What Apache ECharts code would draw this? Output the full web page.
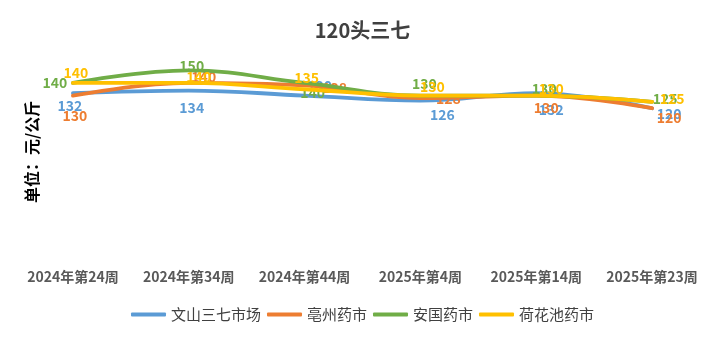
<!DOCTYPE html>
<html><head><meta charset="utf-8">
<script src="https://cdn.jsdelivr.net/npm/echarts@6/dist/echarts.min.js"></script>
<style>html,body{margin:0;padding:0;background:#fff}#c{width:725px;height:341px}</style>
</head><body><div id="c"></div>
<script>
const categories = ['2024年第24周','2024年第34周','2024年第44周','2025年第4周','2025年第14周','2025年第23周'];
const seriesNames = ['文山三七市场','亳州药市','安国药市','荷花池药市'];
const wenshan = [132,134,130,126,132,120];
const bozhou = [130,140,138,128,130,120];
const anguo = [140,150,140,130,130,125];
const hehuachi = [140,140,135,130,130,125];
const colors = ['#5B9BD5','#ED7D31','#70AD47','#FFC000'];
const font = '"Noto Sans CJK SC", "Noto Sans", sans-serif';

// label offsets (style only), per series per point
const labelOffsets = [
  [[-3,13],[3,17],[15,-10],[22,14],[15,17],[17,5]],
  [[2,20],[15,-6],[30,2],[28,1],[10,12],[17,9]],
  [[-18,0],[3,-5],[8,10],[4,-12],[8,-7],[13,-3]],
  [[3,-10],[10,-6],[2,-12],[12,-9],[15,-7],[20,-3]]
];

function mk(idx, data, z) {
  const color = colors[idx];
  return {
    name: seriesNames[idx], type:'line', smooth:0.4, showSymbol:true, symbol:'circle', symbolSize:0, z,
    data: data.map((v,i)=>({value:v, label:{show:true, position:labelOffsets[idx][i], align:'center', verticalAlign:'middle'}})),
    lineStyle:{width:3.8, color, cap:'round'},
    itemStyle:{color},
    label:{show:true, color, fontSize:14, fontWeight:'bold', fontFamily:font},
    labelLayout:{hideOverlap:false}
  };
}
const chart = echarts.init(document.getElementById('c'));
chart.setOption({
  animation:false,
  color: colors,
  title:{text:'120头三七', left:'center', top:15, textStyle:{fontSize:20, fontWeight:'bold', color:'#404040', fontFamily:font}},
  grid:{left:15, right:15, top:45, bottom:81},
  xAxis:{type:'category', data:categories, boundaryGap:true,
    axisLine:{show:false}, axisTick:{show:false},
    axisLabel:{interval:0, color:'#595959', fontSize:14, fontWeight:'bold', margin:10, fontFamily:font}},
  yAxis:{type:'value', min:0, max:170, show:false},
  legend:{data:seriesNames, bottom:14, left:'center', icon:'roundRect', itemWidth:35, itemHeight:4, itemGap:6,
    textStyle:{fontSize:15, color:'#404040', fontFamily:font}},
  graphic:[{type:'text', rotation:Math.PI/2, x:24, y:203, style:{text:'单位：元/公斤', fontSize:16, fontWeight:'bold', fill:'#000', fontFamily:font}}],
  series:[ mk(0, wenshan, 2), mk(1, bozhou, 3), mk(2, anguo, 4), mk(3, hehuachi, 5) ]
});
</script></body></html>
